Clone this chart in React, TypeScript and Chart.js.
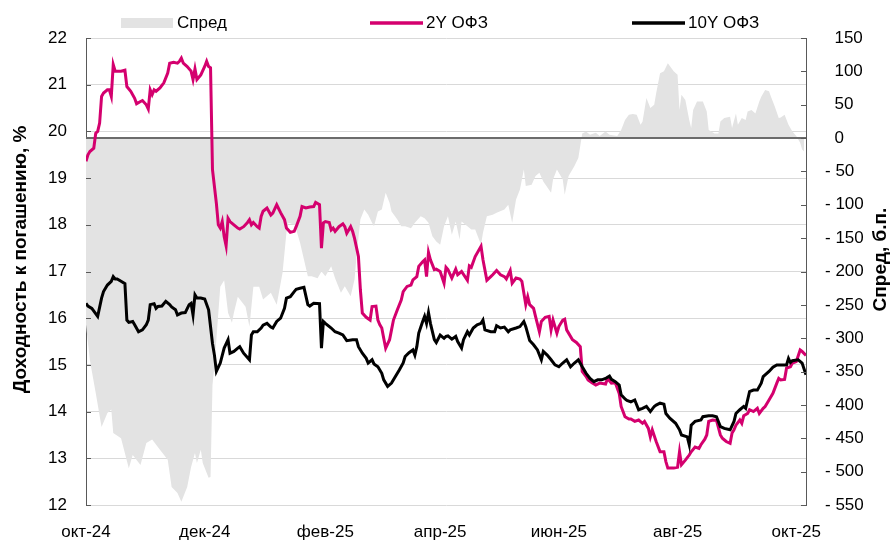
import React, { useEffect, useRef } from 'react';
import { Chart, registerables } from 'chart.js';

Chart.register(...registerables);

// ---- axis ticks (days since 1 Oct 2024) ----
const tickDays = [0, 61, 123, 182, 243, 304, 365];
const tickLabels = ['окт-24', 'дек-24', 'фев-25', 'апр-25', 'июн-25', 'авг-25', 'окт-25'];

const seriesNames = ['Спред', '2Y ОФЗ', '10Y ОФЗ'];

// ---- 2Y OFZ yield, % ----
const y2Days = [0, 1, 2, 4, 5, 6, 7, 8, 9, 11, 12, 13, 14, 15, 18, 20, 21, 23, 25, 26, 28, 29, 31, 32, 33, 34, 35, 36, 38, 40, 42, 43, 45, 47, 48, 49, 50, 52, 54, 55, 56, 57, 59, 61, 62, 63, 64, 65, 67, 68, 69, 70, 71, 72, 73, 74, 76, 78, 79, 81, 83, 84, 85, 86, 88, 89, 90, 91, 93, 95, 96, 98, 100, 102, 103, 105, 107, 108, 110, 111, 113, 115, 117, 118, 120, 121, 122, 123, 125, 126, 127, 128, 130, 132, 133, 134, 136, 137, 138, 140, 141, 142, 144, 146, 147, 149, 150, 151, 152, 153, 154, 156, 157, 158, 160, 162, 163, 165, 167, 168, 170, 171, 173, 174, 175, 176, 177, 179, 180, 182, 184, 185, 186, 188, 190, 191, 193, 196, 197, 198, 200, 203, 204, 206, 208, 209, 211, 213, 215, 216, 218, 219, 221, 223, 224, 226, 227, 228, 230, 231, 233, 234, 236, 238, 239, 240, 242, 243, 245, 246, 247, 250, 252, 254, 255, 257, 258, 260, 262, 264, 267, 268, 270, 272, 274, 275, 277, 279, 280, 282, 284, 286, 287, 289, 290, 291, 293, 295, 297, 298, 299, 302, 304, 305, 306, 308, 310, 311, 313, 315, 316, 318, 319, 320, 322, 324, 326, 327, 329, 331, 332, 333, 334, 336, 337, 338, 340, 341, 343, 345, 346, 348, 349, 351, 353, 355, 356, 357, 359, 360, 362, 363, 365, 367, 368, 370];
const y2Values = [19.36, 19.5, 19.57, 19.64, 19.96, 20.0, 20.18, 20.75, 20.82, 20.89, 20.89, 20.75, 21.43, 21.29, 21.29, 21.31, 20.96, 20.86, 20.71, 20.59, 20.64, 20.66, 20.57, 20.48, 20.89, 20.79, 20.89, 20.86, 20.93, 21.04, 21.25, 21.46, 21.48, 21.46, 21.5, 21.57, 21.46, 21.39, 21.29, 21.11, 21.34, 21.11, 21.21, 21.39, 21.5, 21.39, 21.36, 19.18, 18.46, 18.0, 17.93, 18.07, 17.75, 17.55, 18.14, 18.07, 18.0, 17.93, 17.91, 17.96, 18.05, 18.11, 18.0, 18.05, 17.96, 17.93, 18.18, 18.29, 18.36, 18.21, 18.25, 18.43, 18.26, 18.11, 17.93, 17.84, 17.86, 17.96, 18.18, 18.39, 18.36, 18.38, 18.39, 18.48, 18.43, 17.5, 18.04, 18.07, 18.05, 17.89, 17.93, 17.86, 17.96, 18.02, 17.96, 17.82, 17.96, 17.86, 17.71, 17.32, 16.61, 16.11, 16.02, 15.96, 16.25, 16.26, 15.96, 15.86, 15.79, 15.57, 15.36, 15.54, 15.75, 15.96, 16.18, 16.39, 16.57, 16.68, 16.71, 16.82, 16.89, 17.11, 17.21, 17.25, 16.89, 17.41, 17.25, 17.04, 17.05, 17.0, 16.75, 17.09, 17.04, 16.86, 17.05, 16.93, 17.0, 16.81, 17.12, 17.09, 17.32, 17.54, 17.25, 16.81, 16.89, 16.93, 17.02, 16.93, 16.89, 16.84, 17.02, 16.75, 16.86, 16.84, 16.79, 16.29, 16.46, 16.29, 16.21, 16.04, 15.71, 15.93, 16.02, 16.04, 15.75, 15.96, 15.68, 15.82, 15.96, 15.98, 15.75, 15.54, 15.48, 15.39, 14.86, 14.75, 14.68, 14.62, 14.57, 14.61, 14.59, 14.71, 14.61, 14.62, 14.39, 14.11, 13.89, 13.84, 13.84, 13.79, 13.82, 13.75, 13.79, 13.64, 13.46, 13.61, 13.36, 13.14, 13.14, 12.93, 12.79, 12.79, 12.81, 13.14, 12.86, 12.96, 13.07, 13.14, 13.24, 13.21, 13.29, 13.41, 13.5, 13.79, 13.82, 13.81, 13.5, 13.43, 13.36, 13.32, 13.54, 13.61, 13.71, 13.82, 13.75, 13.91, 13.96, 14.04, 14.0, 14.07, 13.96, 14.07, 14.11, 14.25, 14.39, 14.61, 14.71, 14.68, 14.69, 14.93, 14.96, 15.04, 15.07, 15.32, 15.29, 15.2];

// ---- 10Y OFZ yield, % ----
const y10Days = [0, 1, 3, 6, 8, 9, 11, 13, 14, 15, 16, 18, 20, 21, 22, 24, 25, 27, 29, 31, 32, 33, 35, 36, 37, 39, 41, 43, 44, 46, 47, 49, 51, 53, 54, 55, 56, 57, 59, 61, 63, 65, 66, 67, 69, 71, 73, 74, 76, 78, 79, 81, 84, 85, 86, 88, 90, 91, 93, 95, 96, 98, 100, 102, 103, 105, 107, 108, 110, 112, 114, 115, 117, 120, 121, 122, 123, 126, 128, 130, 132, 134, 137, 139, 140, 142, 144, 145, 147, 148, 150, 152, 153, 155, 157, 159, 161, 163, 164, 166, 168, 169, 170, 171, 173, 174, 175, 176, 177, 179, 180, 182, 184, 185, 186, 188, 190, 191, 193, 194, 196, 197, 199, 201, 203, 204, 205, 208, 210, 211, 213, 215, 217, 218, 221, 223, 225, 226, 228, 230, 232, 234, 235, 237, 239, 241, 243, 245, 247, 249, 251, 253, 255, 257, 259, 261, 263, 265, 267, 269, 270, 272, 274, 275, 277, 278, 280, 282, 284, 286, 288, 290, 292, 293, 295, 297, 298, 300, 303, 305, 306, 309, 310, 311, 313, 316, 317, 320, 322, 324, 326, 328, 331, 333, 334, 336, 338, 339, 341, 343, 345, 347, 348, 351, 353, 355, 358, 360, 361, 362, 363, 366, 368, 370];
const y10Values = [16.32, 16.26, 16.21, 16.04, 16.43, 16.57, 16.71, 16.79, 16.89, 16.84, 16.84, 16.79, 16.74, 15.96, 15.91, 15.93, 15.86, 15.71, 15.75, 15.86, 15.96, 16.29, 16.31, 16.21, 16.25, 16.26, 16.36, 16.29, 16.24, 16.18, 16.07, 16.11, 16.12, 16.29, 16.32, 16.07, 16.5, 16.43, 16.43, 16.41, 16.18, 15.46, 15.21, 14.86, 15.04, 15.36, 15.54, 15.25, 15.29, 15.36, 15.39, 15.25, 15.11, 15.64, 15.71, 15.71, 15.79, 15.85, 15.89, 15.81, 15.79, 15.93, 16.0, 16.21, 16.43, 16.46, 16.57, 16.62, 16.64, 16.66, 16.29, 16.26, 16.32, 16.31, 15.36, 15.93, 15.89, 15.79, 15.71, 15.68, 15.64, 15.52, 15.54, 15.54, 15.39, 15.25, 15.14, 15.04, 15.11, 15.02, 14.96, 14.82, 14.68, 14.54, 14.61, 14.75, 14.89, 15.04, 15.18, 15.26, 15.32, 15.21, 15.39, 15.68, 15.93, 16.04, 15.89, 16.12, 15.89, 15.54, 15.48, 15.64, 15.57, 15.61, 15.62, 15.55, 15.61, 15.5, 15.36, 15.54, 15.71, 15.64, 15.79, 15.86, 15.89, 15.96, 15.75, 15.71, 15.71, 15.84, 15.79, 15.81, 15.71, 15.75, 15.79, 15.82, 15.93, 15.82, 15.52, 15.43, 15.32, 15.11, 15.29, 15.21, 15.11, 15.0, 14.96, 15.04, 15.11, 14.96, 15.04, 15.11, 14.96, 14.82, 14.71, 14.64, 14.68, 14.68, 14.71, 14.76, 14.69, 14.64, 14.57, 14.36, 14.27, 14.24, 14.21, 14.25, 14.04, 14.07, 14.11, 14.0, 14.11, 14.14, 14.18, 14.16, 13.96, 13.86, 13.75, 13.61, 13.5, 13.46, 13.29, 13.71, 13.79, 13.82, 13.89, 13.91, 13.91, 13.89, 13.68, 13.64, 13.61, 13.79, 13.96, 14.04, 14.11, 14.07, 14.43, 14.46, 14.46, 14.61, 14.75, 14.86, 14.95, 15.0, 15.0, 15.0, 15.14, 15.05, 15.09, 15.11, 15.04, 14.79];

// ---- spread, bp ----
const spreadDays = [0, 2, 5, 8, 11, 13, 14, 18, 22, 24, 28, 31, 34, 38, 42, 44, 47, 49, 52, 54, 56, 57, 59, 60, 63, 64, 65, 66, 69, 71, 73, 75, 76, 78, 82, 84, 86, 89, 91, 95, 98, 101, 103, 104, 107, 108, 110, 112, 114, 116, 119, 121, 123, 126, 128, 131, 133, 136, 138, 139, 141, 143, 145, 147, 148, 150, 152, 154, 156, 157, 160, 162, 164, 167, 169, 172, 174, 176, 178, 180, 182, 184, 186, 188, 190, 192, 193, 196, 198, 200, 203, 204, 206, 209, 211, 215, 217, 219, 221, 223, 225, 226, 229, 231, 233, 235, 239, 240, 242, 245, 246, 248, 251, 253, 255, 257, 259, 262, 264, 267, 269, 273, 275, 277, 279, 281, 283, 285, 286, 288, 290, 292, 293, 295, 297, 299, 302, 304, 305, 306, 308, 310, 311, 312, 314, 317, 319, 320, 323, 325, 326, 328, 331, 332, 334, 335, 337, 339, 340, 342, 344, 346, 347, 349, 351, 352, 354, 356, 357, 359, 361, 363, 365, 367, 368, 369];
const spreadValues = [-280, -333, -382, -433, -412, -407, -442, -450, -495, -475, -490, -457, -452, -467, -482, -523, -532, -545, -523, -493, -472, -487, -467, -487, -509, -508, -370, -341, -223, -213, -262, -277, -262, -238, -253, -283, -223, -223, -242, -232, -250, -202, -142, -127, -130, -137, -157, -182, -207, -207, -210, -200, -207, -192, -210, -232, -222, -237, -212, -177, -122, -107, -115, -127, -132, -110, -107, -82, -97, -110, -122, -132, -132, -135, -127, -117, -120, -127, -147, -155, -160, -132, -117, -145, -125, -152, -125, -132, -137, -137, -160, -142, -117, -115, -112, -107, -100, -127, -92, -77, -47, -72, -70, -57, -52, -65, -82, -62, -47, -62, -85, -57, -42, -30, 7, 10, 5, 8, 3, 10, 5, 3, 12, 27, 35, 36, 35, 20, 25, 60, 45, 50, 67, 97, 100, 112, 100, 95, 42, 65, 57, 27, 15, 42, 55, 55, 40, 12, 7, 7, 25, 30, 32, 15, 37, 20, 30, 27, 40, 42, 37, 55, 62, 72, 70, 62, 47, 30, 31, 35, 20, 10, 3, -7, -17, -20];

const leftTitle = 'Доходность к погашению, %';
const rightTitle = 'Спред, б.п.';

const FONT = "'Liberation Sans', Arial, sans-serif";
const FS = 17;
const PINK = '#d4006e';
const BLACK = '#000000';
const GREY_FILL = '#e3e3e3';
const GRID = '#d9d9d9';
const AXIS = '#595959';
const ZERO = '#6b6b6b';

const toPoints = (xs: number[], ys: number[]) => xs.map((x, i) => ({ x, y: ys[i] }));

const decorPlugin = {
  id: 'decor',
  beforeDatasetsDraw(chart: any) {
    const { ctx, chartArea } = chart;
    const y1 = chart.scales.y1;
    const py = y1.getPixelForValue(0);
    ctx.save();
    ctx.strokeStyle = ZERO;
    ctx.lineWidth = 2;
    ctx.beginPath();
    ctx.moveTo(chartArea.left, py);
    ctx.lineTo(chartArea.right, py);
    ctx.stroke();
    ctx.restore();
  },
  afterDraw(chart: any) {
    const { ctx, chartArea } = chart;
    const y = chart.scales.y;
    const y1 = chart.scales.y1;
    ctx.save();
    ctx.strokeStyle = AXIS;
    ctx.lineWidth = 1;
    ctx.beginPath();
    y.ticks.forEach((_: any, i: number) => {
      const p = Math.round(y.getPixelForTick(i)) + 0.5;
      ctx.moveTo(chartArea.left, p);
      ctx.lineTo(chartArea.left + 5, p);
    });
    y1.ticks.forEach((_: any, i: number) => {
      const p = Math.round(y1.getPixelForTick(i)) + 0.5;
      ctx.moveTo(chartArea.right - 5, p);
      ctx.lineTo(chartArea.right, p);
    });
    ctx.stroke();

    // axis titles (both read bottom-to-top)
    const midY = (chartArea.top + chartArea.bottom) / 2 - 12;
    ctx.fillStyle = '#000';
    ctx.font = `bold 19px ${FONT}`;
    ctx.textAlign = 'center';
    ctx.textBaseline = 'middle';
    [[21, leftTitle], [881, rightTitle]].forEach(([x, t]) => {
      ctx.save();
      ctx.translate(x as number, midY);
      ctx.rotate(-Math.PI / 2);
      ctx.fillText(t as string, 0, 0);
      ctx.restore();
    });

    // legend
    const ds = chart.data.datasets;
    const starts = [121, 370, 632];
    const ly = 23;
    ctx.font = `${FS}px ${FONT}`;
    ctx.textAlign = 'left';
    [2, 1, 0].forEach((dsIndex, k) => {
      const d = ds[dsIndex];
      const x0 = starts[k];
      if (d.fill) {
        ctx.fillStyle = d.backgroundColor;
        ctx.fillRect(x0, ly - 5, 52, 10);
      } else {
        ctx.strokeStyle = d.borderColor;
        ctx.lineWidth = 3.5;
        ctx.beginPath();
        ctx.moveTo(x0, ly);
        ctx.lineTo(x0 + 53, ly);
        ctx.stroke();
      }
      ctx.fillStyle = '#000';
      ctx.fillText(d.label, x0 + 56, ly);
    });
    ctx.restore();
  },
};

export default function App() {
  const ref = useRef<HTMLCanvasElement>(null);

  useEffect(() => {
    document.body.style.margin = '0';
    const canvas = ref.current!;
    const chart = new Chart(canvas, {
      type: 'line',
      data: {
        datasets: [
          {
            label: seriesNames[2],
            data: toPoints(y10Days, y10Values),
            borderColor: BLACK,
            borderWidth: 3,
            pointRadius: 0,
            tension: 0,
            fill: false,
            yAxisID: 'y',
            order: 1,
          },
          {
            label: seriesNames[1],
            data: toPoints(y2Days, y2Values),
            borderColor: PINK,
            borderWidth: 3,
            pointRadius: 0,
            tension: 0,
            fill: false,
            yAxisID: 'y',
            order: 2,
          },
          {
            label: seriesNames[0],
            data: toPoints(spreadDays, spreadValues),
            borderColor: 'rgba(0,0,0,0)',
            borderWidth: 0,
            backgroundColor: GREY_FILL,
            pointRadius: 0,
            tension: 0,
            fill: 'origin',
            yAxisID: 'y1',
            order: 3,
          },
        ] as any,
      },
      options: {
        animation: false,
        responsive: false,
        devicePixelRatio: 1,
        layout: { padding: { top: 38, left: 0, right: 0, bottom: 0 } },
        font: { family: FONT },
        plugins: {
          legend: { display: false },
          tooltip: { enabled: false },
          filler: { drawTime: 'beforeDatasetsDraw' },
        } as any,
        scales: {
          x: {
            type: 'linear',
            min: 0,
            max: 370,
            grid: { display: false },
            border: { display: false },
            afterBuildTicks: (scale: any) => {
              scale.ticks = tickDays.map((v) => ({ value: v }));
            },
            afterFit: (scale: any) => {
              scale.height = 38;
            },
            ticks: {
              autoSkip: false,
              maxRotation: 0,
              padding: 9,
              color: '#000',
              font: { family: FONT, size: FS },
              callback: (v: any) => tickLabels[tickDays.indexOf(Number(v))] ?? '',
            },
          },
          y: {
            type: 'linear',
            position: 'left',
            min: 12,
            max: 22,
            afterFit: (scale: any) => {
              scale.width = 86;
            },
            grid: { color: GRID, lineWidth: 1, drawTicks: false },
            border: { display: true, color: AXIS, width: 1 },
            ticks: {
              stepSize: 1,
              padding: 19,
              color: '#000',
              font: { family: FONT, size: FS },
            },
          },
          y1: {
            type: 'linear',
            position: 'right',
            min: -550,
            max: 150,
            afterFit: (scale: any) => {
              scale.width = 87;
            },
            grid: { drawOnChartArea: false, drawTicks: false },
            border: { display: true, color: AXIS, width: 1 },
            ticks: {
              stepSize: 50,
              padding: 19,
              color: '#000',
              font: { family: FONT, size: FS },
              callback: (v: any) => (Number(v) < 0 ? '- ' + Math.abs(Number(v)) : '  ' + v),
            },
          },
        },
      } as any,
      plugins: [decorPlugin],
    });
    return () => chart.destroy();
  }, []);

  return (
    <div style={{ width: 893, height: 543 }}>
      <canvas ref={ref} width={893} height={543} style={{ display: 'block' }} />
    </div>
  );
}
